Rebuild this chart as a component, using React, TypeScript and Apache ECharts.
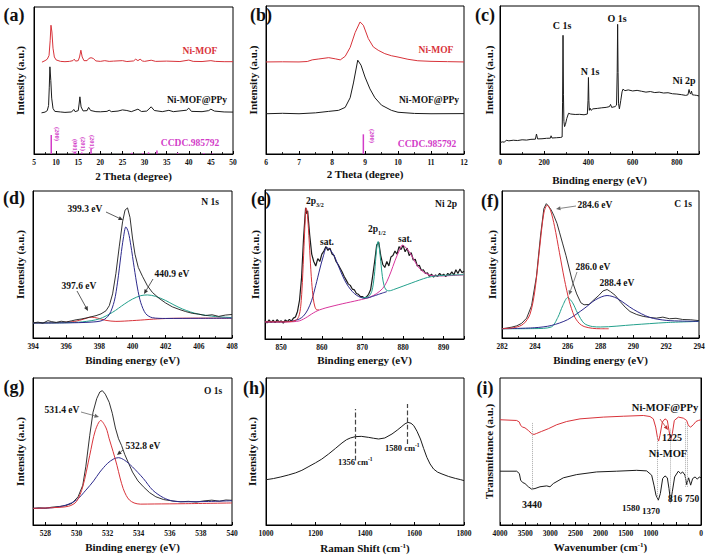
import React, { useEffect, useRef } from 'react';
import * as echarts from 'echarts';

const FONT = '"Liberation Serif", "Times New Roman", serif';
const BLACK = '#1b1b1b';
const RED = '#d8333a';
const MAG = '#d23cc8';
const NAVY = '#2d2a8c';
const TEAL = '#23a08c';
const PINK = '#d8359c';

// ---------- (a) XRD wide ----------
const aNiMOF = [[6.8,62.5],[7.5,63.5],[8.0,64.5],[8.4,67],[8.65,77],[8.84,87.6],[9.05,83],[9.3,72],[9.6,66],[10,64],[11,63],[12,62.8],[13,63],[13.8,63.5],[14.1,64.5],[14.4,63.2],[15.0,63.5],[15.3,66],[15.6,70.6],[15.9,66],[16.3,63.5],[17,63.5],[17.4,65],[17.9,65.5],[18.4,65],[19,63.3],[20,63],[21,63.5],[22,63],[23,63.2],[25,63.5],[26,62.9],[27.5,63.3],[28,64.5],[28.5,63.5],[29,64.5],[29.5,63.3],[30,63],[31.5,63.8],[32.5,63],[35,63.2],[38,62.9],[40,63.9],[41,63],[43,62.9],[45,63.5],[46,63],[48,62.8],[50,62.8]];
const aNiMOFPPy = [[6.7,28.0],[7.5,28.5],[8.0,29.5],[8.3,33],[8.45,45],[8.6,59.3],[8.8,50],[9.0,38],[9.3,31],[9.7,29],[11,28.6],[12,28.3],[13.5,28.6],[14.0,30.3],[14.3,28.8],[15.0,29.5],[15.2,34],[15.38,38.9],[15.65,32],[16.1,29.3],[17.0,29.5],[17.35,31.7],[17.8,29.6],[19,28.8],[20,28.7],[21.5,29],[22,29.8],[22.5,28.8],[24,29.2],[25,30],[26,29.6],[27,28.8],[28.5,30.5],[29.3,28.9],[30.5,29.2],[31.5,32.1],[32.2,29.6],[34,28.8],[35.5,29.7],[36.5,28.8],[39.5,29.8],[40,31.2],[40.6,29],[43,28.8],[44.5,29.5],[45,30.5],[45.8,29.2],[48,28.6],[50,28.5]];
const aSticks = [[8.9,12.9],[14.3,1.5],[15.8,1.0],[17.9,3.4],[27.1,0.8],[29.6,0.6],[30.9,1.1],[32.8,2.3],[37.5,0.8],[43.4,0.6],[45.3,0.5]];

// ---------- (b) XRD narrow ----------
const bNiMOF = [[6.0,62.2],[6.5,62.3],[7.0,62.2],[7.25,62.5],[7.4,63.6],[7.6,64.2],[7.9,65.1],[8.1,64.3],[8.25,63.6],[8.4,66],[8.55,72],[8.7,82],[8.85,89.2],[8.95,87],[9.1,78],[9.25,72.4],[9.4,70.1],[9.6,67.8],[9.8,66.4],[10,65.5],[10.3,64],[10.6,63],[11,62.6],[11.5,62.4],[12,62.2]];
const bNiMOFPPy = [[6,27.2],[6.5,27.5],[7,27.2],[7.5,27.8],[7.9,28.8],[8.2,29.5],[8.4,31.5],[8.55,38],[8.65,48],[8.78,63.4],[8.88,60],[9.0,52],[9.15,44],[9.3,38],[9.5,33],[9.8,29.5],[10.0,28.2],[10.5,27.4],[11,27.2],[12,27.3]];
const bSticks = [[8.95,13.3]];

// ---------- (c) XPS survey ----------
const cSurvey = [[0,7.6],[10,8.2],[20,8.0],[28,9.3],[40,8.9],[60,9.3],[80,9.1],[100,9.6],[120,9.4],[140,9.9],[160,10.0],[165,13.5],[170,10.2],[190,10.3],[210,10.6],[228,10.7],[231,12.3],[235,10.8],[255,11.0],[275,11.2],[281,11.5],[283,35],[285,80.2],[287,40],[289,22],[292,18.5],[296,20],[302,24],[310,27.5],[320,27],[340,26.7],[360,26.8],[380,26.5],[395,27],[398,36],[400,51.7],[402,36],[404,29.5],[407,31],[412,29.5],[420,30.5],[440,30.8],[460,31.2],[480,31.5],[495,32],[500,33.5],[505,31.5],[520,32],[527,33],[530,55],[532,87.6],[534,55],[536,34],[540,30.5],[546,36],[552,42],[556,43.8],[565,42.8],[580,43.3],[600,42.6],[620,43],[640,42.4],[660,41.8],[680,42.2],[700,41.5],[720,41.8],[740,41.2],[760,41.4],[780,40.7],[800,40.5],[820,40.1],[840,39.6],[850,40],[855,43.6],[858,41.5],[862,40.5],[866,42.5],[870,40],[880,39.8],[890,39.6],[900,39.2]];

// ---------- (d) N 1s ----------
const dTickLabels = ['394','396','398','400','402','406','408'];
const dRaw = [[394,10.2],[394.3,10.8],[394.6,10.1],[394.9,11.8],[395.1,11.2],[395.4,10.6],[395.7,11.4],[396,10.9],[396.3,11.6],[396.6,12.4],[396.9,12.9],[397.2,13.6],[397.5,14.4],[397.8,15.2],[398.1,16.4],[398.4,18.5],[398.6,22],[398.8,30],[399.0,44],[399.2,62],[399.4,79],[399.55,87],[399.7,88.5],[399.85,82],[400.0,68],[400.15,57],[400.35,48],[400.6,42],[400.9,35.5],[401.2,31],[401.6,27],[402.0,23.8],[402.4,21.2],[402.8,19.5],[403.2,18],[403.6,16.8],[404.0,16.2],[404.4,15.3],[404.8,15.8],[405.2,14.7],[405.6,15.6],[406,16]];
const dBlue = [[394,10.2],[396,10.3],[397.5,10.8],[398.2,12],[398.6,16],[398.9,25],[399.1,38],[399.3,56],[399.45,68],[399.6,75.6],[399.75,72],[399.9,63],[400.1,48],[400.3,34],[400.5,24],[400.8,16.5],[401.2,13.8],[402,13.3],[404,13.4],[406,13.5]];
const dTeal = [[394,10.2],[396,10.4],[397,11],[398,13],[398.8,17.5],[399.5,23],[400,26.5],[400.5,28.8],[400.9,29.3],[401.4,28.3],[402,25.5],[402.5,22.5],[403,19.8],[403.5,17.7],[404,16.2],[405,14.6],[406,13.9]];
const dRed = [[394,10.2],[395.5,10.5],[396.5,11.2],[397.1,13],[397.5,14.2],[397.9,13.5],[398.4,12],[399,11.3],[399.5,11.5],[400.5,12.2],[401.5,13],[402.5,13.4],[404,13.5],[406,13.5]];

// ---------- (e) Ni 2p ----------
const eRaw = [[846,12.5],[846.5,10.8],[847,12.9],[847.5,11.2],[848,12.6],[848.5,11.0],[849,13.0],[849.5,11.5],[850,12.2],[850.5,10.6],[851,12.8],[851.5,11.7],[852,13.2],[852.5,12.0],[853,14.0],[853.5,14.8],[854,18.5],[854.5,26],[855,41],[855.5,68],[856,88],[856.3,84],[856.5,86],[857,70],[857.5,57],[858,52],[858.5,49],[859,54],[859.5,52],[860,57],[860.5,59],[861,62],[861.5,59.5],[862,61],[862.5,57],[863,56],[863.5,52],[864,50],[864.5,47.5],[865,45],[865.5,42],[866,39.5],[866.5,37],[867,36],[867.5,33.5],[868,33],[868.5,30.5],[869,30],[869.5,28.5],[870,28.5],[870.5,27.2],[871,28.3],[871.5,30],[872,33],[872.5,42],[873,52],[873.5,63],[874,65],[874.5,56],[875,50],[875.5,48],[876,52],[876.5,49],[877,55],[877.5,56],[878,59],[878.5,57],[879,62],[879.5,60],[880,63],[880.5,58.5],[881,61],[881.5,56],[882,58],[882.5,53],[883,53.5],[883.5,49],[884,49.5],[884.5,46],[885,46.5],[885.5,44],[886,44.5],[886.5,42],[887,43.5],[887.5,41.5],[888,43],[888.5,42],[889,44],[889.5,42.5],[890,43.5],[890.5,41.8],[891,44],[891.5,43],[892,45],[892.5,43],[893,46.5],[893.5,44],[894,47],[894.5,44.5],[895,45.5]];
const eRed = [[846,11.5],[852,11.6],[853.5,12.5],[854.3,15],[854.8,22],[855.2,38],[855.6,62],[855.9,80],[856.1,88],[856.35,86],[856.7,74],[857.1,55],[857.5,38],[857.9,27],[858.3,21.5],[858.8,19.5],[859.2,19.8]];
const ePink = [[846,11.4],[850,11.4],[853,11.6],[854.5,12.2],[855.5,13.4],[856.5,15],[857.5,16.8],[858.5,18.4],[859.5,19.6],[861,20.9],[863,22.3],[865,23.6],[867,24.8],[869,26],[870.5,27],[872,28.3],[873.5,30.5],[875,34],[876,38.5],[877,45],[878,52.5],[879,59],[879.8,63],[881,60.5],[882,56.5],[883,51.5],[884,47.5],[885,45],[886,43.5],[887,42.6],[889,42.3],[892,42.6],[895,43]];
const eNavy = [[846,11.4],[851,11.6],[853,12.2],[854.5,13.5],[855.5,15.5],[856.5,19.5],[857.5,26],[858.5,36],[859.5,47],[860.3,55],[861.2,61.4],[862,60],[863,56],[864,49.5],[865,43],[866,37.5],[867,33.5],[868,30.5],[869,28.6],[870,27.6],[871,27.5],[872.5,28.6],[874,30],[876,31.8]];
const eTeal = [[870,27.6],[871.5,28.5],[872.3,32],[872.9,42],[873.3,55],[873.6,63],[873.85,65.4],[874.1,62],[874.5,52],[874.9,42],[875.3,36],[875.8,33],[876.5,32.3],[878,33.5],[880,35.5],[882,37.5],[884,39.5],[886,41.3],[888,42.3],[890,42.7],[895,43.2]];

// ---------- (f) C 1s ----------
const fRaw = [[282,6.3],[282.3,6.8],[282.6,7.4],[282.9,8.3],[283.2,10],[283.5,13.5],[283.8,22],[284.1,42],[284.35,70],[284.55,88],[284.7,91.4],[284.85,89.5],[285.0,87],[285.15,83.5],[285.35,78],[285.5,72],[285.7,64],[285.9,56],[286.1,47],[286.3,38],[286.55,30],[286.8,24],[287.0,22.6],[287.3,22.8],[287.6,26],[287.9,29],[288.15,32],[288.4,33],[288.6,31.6],[288.9,29],[289.2,24.8],[289.5,21],[289.8,18],[290.2,16],[290.6,14.7],[291,14],[291.4,13.5],[291.8,14.2],[292.2,13.1],[292.6,13.4],[293,12.6],[293.5,12.4],[294,11.8]];
const fRed = [[282,6.3],[282.8,7.2],[283.3,9.5],[283.7,16],[284.0,32],[284.3,62],[284.55,85],[284.75,90.3],[284.95,87],[285.2,76],[285.5,58],[285.8,40],[286.1,25],[286.4,15],[286.7,10],[287.0,7.8],[287.5,6.6],[288,6.3],[288.5,6.3]];
const fTeal = [[282,6.3],[284,6.4],[285,7.5],[285.4,14],[285.7,22],[286.0,27.5],[286.3,24],[286.6,17],[287,10],[287.5,7.8],[288,7.5],[290,9],[292,10.5],[294,11.3]];
const fBlue = [[282,6.3],[284,7],[285,8.5],[286,12.5],[287,20],[287.7,26],[288.4,28.9],[289,27],[290,19.5],[291,14],[292,12],[293,11.5],[294,11.3]];

// ---------- (g) O 1s ----------
const gRaw = [[527.2,11.3],[527.6,11.7],[528,11.4],[528.4,12.1],[528.9,12.6],[529.3,13.2],[529.7,14.7],[530.1,19.2],[530.4,27],[530.6,40],[530.85,61],[531.06,76.7],[531.3,86],[531.5,90.5],[531.66,91.4],[531.85,89],[532.1,83.5],[532.3,76],[532.5,66],[532.7,58.7],[532.9,54],[533.1,48],[533.35,42],[533.6,36],[533.95,30],[534.3,26],[534.7,22],[535.1,19.2],[535.6,17.3],[536.2,16.3],[536.7,15.8],[537.2,16.1],[537.7,15.6],[538.2,16.4],[538.7,16.9],[539.2,16.2],[539.6,17],[540,16.8]];
const gRed = [[527.2,11.3],[528.5,11.8],[529.5,12.8],[530.0,16],[530.4,26],[530.85,47.4],[531.2,64],[531.56,71.1],[531.9,66],[532.1,58.7],[532.35,50],[532.6,40.6],[532.8,32],[533.0,24.8],[533.2,20],[533.4,17],[533.7,15],[534.1,14.2],[535,14.3],[537,14.5],[540,15]];
const gBlue = [[527.2,11.3],[528.5,11.8],[529.3,13.5],[530,17],[530.6,23.7],[531.1,30],[531.5,36],[532,42],[532.4,45],[532.7,45.8],[533.1,44],[533.6,39.5],[534.3,31.6],[534.9,23.7],[535.6,18.5],[536.2,16.3],[537,15.8],[538.5,16],[540,16.5]];

// ---------- (h) Raman ----------
const hRaman = [[1000,30.8],[1030,31.6],[1060,32.7],[1090,34],[1120,35.5],[1145,37.2],[1170,39.5],[1200,42.3],[1225,44.8],[1253,48.3],[1280,52],[1307,55.8],[1325,58],[1341,59.2],[1361,60.1],[1385,60.3],[1415,59.6],[1435,59],[1455,58.5],[1480,59.2],[1509,61.9],[1530,64.5],[1549,67.1],[1562,68.9],[1574,69.8],[1586,69.2],[1597,67.6],[1610,63.8],[1624,58.5],[1637,52],[1650,46],[1663,41.5],[1677,38.1],[1693,36],[1711,34.7],[1738,33],[1765,31.7],[1785,30.9],[1800,30.2]];
const hMarks = [[1361,43.8,78.9],[1571,55.1,82.3]];

// ---------- (i) FTIR ----------
const iPPy = [[4000,71.6],[3668,71.1],[3615,70.0],[3589,67.7],[3549,66.6],[3503,66.1],[3436,64.3],[3370,62.1],[3323,61.6],[3270,62.3],[3171,63.7],[3038,65.5],[2872,68.2],[2673,70.4],[2408,72.2],[1944,73.4],[1546,74.0],[1148,74.5],[1015,73.8],[949,72.2],[902,66.6],[862,58.7],[843,57.1],[816,61.0],[770,70.0],[717,72.2],[670,71.1],[637,64.3],[604,57.6],[571,62.1],[531,71.1],[451,73.4],[352,72.7],[285,71.1],[252,67.7],[206,66.6],[153,68.2],[100,70.4],[53,71.1],[0,71.6]];
const iMOF = [[4000,36.6],[3668,36.6],[3615,35.0],[3589,30.5],[3549,28.9],[3503,28.2],[3436,26.0],[3370,24.4],[3304,24.8],[3204,26.0],[3071,26.6],[3005,26.0],[2939,28.2],[2740,32.1],[2474,34.3],[2076,36.1],[1678,36.6],[1280,37.2],[1081,36.8],[982,33.9],[936,27.1],[896,20.3],[849,16.9],[809,21.4],[763,31.6],[717,33.4],[670,32.1],[637,24.8],[604,15.8],[571,22.6],[524,32.7],[451,36.6],[405,35.0],[365,36.1],[319,33.9],[285,27.5],[246,32.1],[206,27.1],[166,31.6],[119,32.7],[73,31.2],[33,32.7],[0,32.1]];
const iMarks = [[3350,23.7,70],[862,16.9,59.8],[617,14.7,65.5],[319,26,70],[266,26,67.7]];

const GRIDS = [
  { left: 34, top: 7, width: 199, height: 147 },
  { left: 266, top: 6, width: 198, height: 148 },
  { left: 500, top: 6, width: 199, height: 148 },
  { left: 33, top: 191, width: 199, height: 147 },
  { left: 265, top: 190, width: 199, height: 149 },
  { left: 502, top: 191, width: 197, height: 147 },
  { left: 33, top: 378, width: 199, height: 147 },
  { left: 266, top: 378, width: 198, height: 147 },
  { left: 500, top: 378, width: 201, height: 147 },
];

const LBL = { fontFamily: FONT, fontWeight: 'bold', fontSize: 7.5, color: '#111', margin: 4 };

function xAx(i: number, o: any) {
  return {
    type: 'value', gridIndex: i, nameLocation: 'middle',
    nameTextStyle: { fontFamily: FONT, fontWeight: 'bold', fontSize: 11, color: '#111',
      rich: { s: { fontFamily: FONT, fontWeight: 'bold', fontSize: 7, color: '#111', verticalAlign: 'top' } } },
    axisLine: { show: true, onZero: false, lineStyle: { color: '#000', width: 1 } },
    axisTick: { show: true, inside: true, length: 3, lineStyle: { color: '#000', width: 1 } },
    minorTick: { show: true, splitNumber: 2, length: 2, lineStyle: { color: '#000', width: 0.8 } },
    axisLabel: { ...LBL, formatter: (v: number) => String(v) },
    splitLine: { show: false },
    ...o,
  };
}
function yAx(i: number, name: string, gap: number) {
  return {
    type: 'value', gridIndex: i, min: 0, max: 100, name, nameLocation: 'middle', nameGap: gap,
    nameTextStyle: { fontFamily: FONT, fontWeight: 'bold', fontSize: 11, color: '#111' },
    axisLine: { show: true, lineStyle: { color: '#000', width: 1 } },
    axisTick: { show: false }, axisLabel: { show: false }, splitLine: { show: false },
  };
}
function line(i: number, data: number[][], color: string, extra: any = {}) {
  return {
    type: 'line', xAxisIndex: i, yAxisIndex: i, data, symbol: 'none', silent: true,
    lineStyle: { color, width: 1 }, itemStyle: { color }, ...extra,
  };
}
function vmarks(marks: number[][], color: string, type: string, width: number) {
  return {
    silent: true, symbol: ['none', 'none'], label: { show: false },
    lineStyle: { color, type, width },
    data: marks.map(m => [{ coord: [m[0], m[1]] }, { coord: [m[0], m[2]] }]),
  };
}
function txt(text: string, x: number, y: number, size: number, fill = '#111', extra: any = {}) {
  return {
    type: 'text', x, y, z: 100, silent: true, ...extra,
    style: { text, fill, fontFamily: FONT, fontWeight: 'bold', fontSize: size, align: 'center', verticalAlign: 'middle', ...(extra.style || {}) },
  };
}
function arrow(x1: number, y1: number, x2: number, y2: number, color = '#333') {
  const a = Math.atan2(y2 - y1, x2 - x1);
  const L = 4.5, W = 2;
  const bx = x2 - L * Math.cos(a), by = y2 - L * Math.sin(a);
  return [
    { type: 'line', z: 100, silent: true, shape: { x1, y1, x2: bx, y2: by }, style: { stroke: color, lineWidth: 0.8 } },
    { type: 'polygon', z: 100, silent: true, shape: { points: [[x2, y2], [bx + W * Math.sin(a), by - W * Math.cos(a)], [bx - W * Math.sin(a), by + W * Math.cos(a)]] }, style: { fill: color } },
  ];
}

function buildOption() {
  const xAxis = [
    xAx(0, { min: 5, max: 50, interval: 5, name: '2 Theta (degree)', nameGap: 16 }),
    xAx(1, { min: 6, max: 12, interval: 1, name: '2 Theta (degree)', nameGap: 14 }),
    xAx(2, { min: 0, max: 900, interval: 200, name: 'Binding energy (eV)', nameGap: 20,
      axisLabel: { ...LBL, formatter: (v: number) => (v % 200 === 0 ? String(v) : '') } }),
    xAx(3, { min: 394, max: 406, interval: 2, name: 'Binding energy (eV)', nameGap: 16,
      axisLabel: { ...LBL, formatter: (v: number) => dTickLabels[Math.round((v - 394) / 2)] || '' } }),
    xAx(4, { min: 846, max: 895, splitNumber: 5, name: 'Binding energy (eV)', nameGap: 15,
      axisLabel: { ...LBL, formatter: (v: number) => (v % 10 === 0 ? String(v) : '') } }),
    xAx(5, { min: 282, max: 294, interval: 2, name: 'Binding energy (eV)', nameGap: 16 }),
    xAx(6, { min: 527.2, max: 540, splitNumber: 6, name: 'Binding energy (eV)', nameGap: 16,
      axisLabel: { ...LBL, formatter: (v: number) => (Math.abs(v % 2) < 1e-6 ? String(v) : '') } }),
    xAx(7, { min: 1000, max: 1800, interval: 200, name: 'Raman Shift (cm{s|-1})', nameGap: 17 }),
    xAx(8, { min: 0, max: 4000, interval: 500, inverse: true, name: 'Wavenumber (cm{s|-1})', nameGap: 16,
      axisLabel: { ...LBL, formatter: (v: number) => (v === 500 ? '' : String(v)) } }),
  ];
  const yAxis = [
    yAx(0, 'Intensity (a.u.)', 8.5), yAx(1, 'Intensity (a.u.)', 7.5), yAx(2, 'Intensity (a.u.)', 5.5),
    yAx(3, 'Intensity (a.u.)', 7.5), yAx(4, 'Intensity (a.u.)', 4.5), yAx(5, 'Intensity (a.u.)', 4.5),
    yAx(6, 'Intensity (a.u.)', 7.5), yAx(7, 'Intensity (a.u.)', 8.5), yAx(8, 'Transmittance (a.u.)', 5.5),
  ];
  const series: any[] = [
    line(0, aNiMOF, RED), line(0, aNiMOFPPy, BLACK),
    { type: 'bar', xAxisIndex: 0, yAxisIndex: 0, data: aSticks, barWidth: 1.5, itemStyle: { color: MAG }, silent: true },
    line(1, bNiMOF, RED), line(1, bNiMOFPPy, BLACK),
    { type: 'bar', xAxisIndex: 1, yAxisIndex: 1, data: bSticks, barWidth: 1.5, itemStyle: { color: MAG }, silent: true },
    line(2, cSurvey, BLACK),
    line(3, dRed, RED, { smooth: 0.3 }), line(3, dTeal, TEAL, { smooth: 0.3 }), line(3, dBlue, NAVY, { smooth: 0.3 }), line(3, dRaw, BLACK, { lineStyle: { color: BLACK, width: 0.9 } }),
    line(4, eRaw, BLACK, { lineStyle: { color: BLACK, width: 1.2 } }),
    line(4, ePink, PINK, { smooth: 0.3 }), line(4, eNavy, NAVY, { smooth: 0.3 }), line(4, eTeal, TEAL, { smooth: 0.3 }), line(4, eRed, RED, { smooth: 0.3 }),
    line(5, fRaw, BLACK, { lineStyle: { color: BLACK, width: 0.9 } }),
    line(5, fTeal, TEAL, { smooth: 0.3 }), line(5, fBlue, NAVY, { smooth: 0.3 }), line(5, fRed, RED, { smooth: 0.3 }),
    line(6, gRaw, BLACK, { lineStyle: { color: BLACK, width: 0.9 } }),
    line(6, gBlue, NAVY, { smooth: 0.3 }), line(6, gRed, RED, { smooth: 0.3 }),
    line(7, hRaman, BLACK, { markLine: vmarks(hMarks, '#444', 'dashed', 1.2) }),
    line(8, iMOF, BLACK, { markLine: vmarks(iMarks, '#aaa', 'dotted', 1) }), line(8, iPPy, RED),
  ];
  const rot = -Math.PI / 2;
  const graphic: any[] = [
    txt('(a)', 14, 15, 18), txt('(b)', 261, 15, 18), txt('(c)', 485, 15, 18),
    txt('(d)', 14, 198, 18), txt('(e)', 261, 199, 18), txt('(f)', 490, 201, 18),
    txt('(g)', 14, 387, 18), txt('(h)', 254, 388, 18), txt('(i)', 485, 388, 18),
    // (a)
    txt('Ni-MOF', 200, 51, 9.5, RED), txt('Ni-MOF@PPy', 197, 100, 9.5), txt('CCDC.985792', 190, 143, 9.5, MAG),
    txt('(200)', 57, 134, 6.5, MAG, { rotation: rot }), txt('(001)', 75, 146, 6.5, MAG, { rotation: rot }),
    txt('(201)', 83, 144, 6.5, MAG, { rotation: rot }), txt('(201)', 92, 142, 6.5, MAG, { rotation: rot }),
    // (b)
    txt('Ni-MOF', 436, 50, 9.5, RED), txt('Ni-MOF@PPy', 429, 100, 9.5), txt('CCDC.985792', 427, 144, 9.5, MAG),
    txt('(200)', 372, 136, 6.5, MAG, { rotation: rot }),
    // (c)
    txt('C 1s', 562, 25, 10), txt('N 1s', 590, 71, 10), txt('O 1s', 617, 18, 10), txt('Ni 2p', 684, 80, 10),
    // (d)
    txt('N 1s', 210, 202, 9.5), txt('399.3 eV', 85, 209, 9.5), ...arrow(106, 212, 123, 220),
    txt('440.9 eV', 172, 274, 9.5), ...arrow(153, 279, 144, 294),
    txt('397.6 eV', 79, 286, 9.5), ...arrow(77, 291, 88, 311),
    // (e)
    txt('2p', 311, 201, 9.5), txt('3/2', 316, 205, 6, '#111', { style: { align: 'left' } }),
    txt('sat.', 327, 242, 9.5),
    txt('2p', 373, 229, 9.5), txt('1/2', 378, 233, 6, '#111', { style: { align: 'left' } }),
    txt('sat.', 405, 239, 9.5), txt('Ni 2p', 446, 204, 9.5),
    // (f)
    txt('284.6 eV', 595, 205, 9.5), ...arrow(576, 206, 556, 209, '#666'),
    txt('C 1s', 683, 204, 9.5),
    txt('286.0 eV', 593, 267, 9.5), ...arrow(577, 272, 569, 295, '#666'),
    txt('288.4 eV', 617, 283, 9.5),
    // (g)
    txt('O 1s', 213, 391, 9.5), txt('531.4 eV', 62, 410, 9.5), ...arrow(81, 412, 99, 417, '#666'),
    txt('532.8 eV', 143, 446, 9.5), ...arrow(123, 450, 117, 455),
    // (h)
    txt('1356 cm', 353, 462, 8.5), txt('-1', 368, 459, 5.5, '#111', { style: { align: 'left' } }),
    txt('1580 cm', 400, 448, 8.5), txt('-1', 415, 445, 5.5, '#111', { style: { align: 'left' } }),
    // (i)
    txt('Ni-MOF@PPy', 665, 407, 10.5), txt('1225', 672, 437, 10), ...arrow(660, 419, 668, 430, '#c03030'),
    txt('Ni-MOF', 668, 453, 10.5), txt('3440', 532, 504, 10), txt('1580', 631, 508, 9),
    txt('1370', 651, 511, 9), txt('816', 675, 499, 9.5), txt('750', 692, 499, 9.5),
  ];
  return {
    animation: false,
    backgroundColor: '#fff',
    textStyle: { fontFamily: FONT },
    grid: GRIDS.map(g => ({ ...g, show: true, borderColor: '#000', borderWidth: 1, backgroundColor: 'transparent', containLabel: false })),
    xAxis, yAxis, series, graphic,
  };
}

export default function App() {
  const ref = useRef<HTMLDivElement>(null);
  useEffect(() => {
    const chart = echarts.init(ref.current!, null, { renderer: 'svg' });
    chart.setOption(buildOption() as any);
    return () => chart.dispose();
  }, []);
  return <div ref={ref} style={{ position: 'fixed', left: 0, top: 0, width: 709, height: 557, background: '#fff' }} />;
}
